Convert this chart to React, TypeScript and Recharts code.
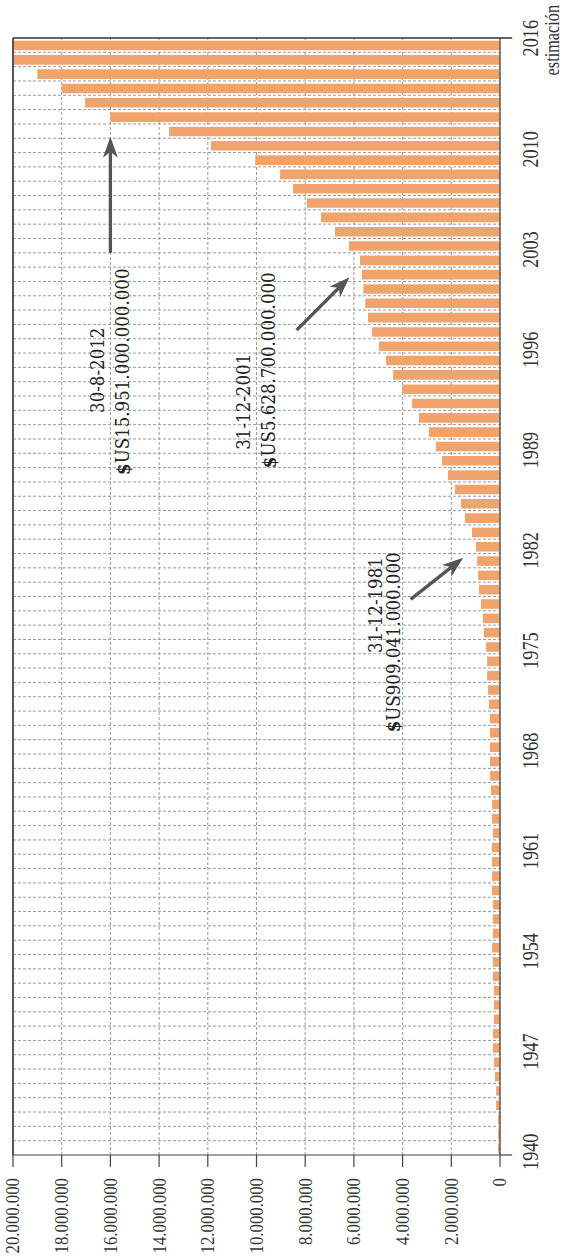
import { BarChart, Bar, XAxis, YAxis, CartesianGrid, ReferenceLine, ReferenceDot } from 'recharts';

// Deuda de EE.UU., en millones de millones de dólares (1939-2016)
const years = [
  1939, 1940, 1941, 1942, 1943, 1944, 1945, 1946, 1947, 1948, 1949, 1950, 1951,
  1952, 1953, 1954, 1955, 1956, 1957, 1958, 1959, 1960, 1961, 1962, 1963, 1964,
  1965, 1966, 1967, 1968, 1969, 1970, 1971, 1972, 1973, 1974, 1975, 1976, 1977,
  1978, 1979, 1980, 1981, 1982, 1983, 1984, 1985, 1986, 1987, 1988, 1989, 1990,
  1991, 1992, 1993, 1994, 1995, 1996, 1997, 1998, 1999, 2000, 2001, 2002, 2003,
  2004, 2005, 2006, 2007, 2008, 2009, 2010, 2011, 2012, 2013, 2014, 2015, 2016,
];

const deuda = [
  0.08, 0.08, 0.08, 0.16, 0.16, 0.21, 0.25, 0.29, 0.29, 0.25, 0.25, 0.25, 0.29,
  0.29, 0.33, 0.29, 0.29, 0.29, 0.33, 0.33, 0.33, 0.33, 0.29, 0.33, 0.33, 0.37,
  0.41, 0.41, 0.41, 0.41, 0.41, 0.45, 0.49, 0.53, 0.53, 0.57, 0.66, 0.7, 0.78,
  0.86, 0.9, 0.94, 0.99, 1.15, 1.44, 1.6, 1.85, 2.14, 2.38, 2.63, 2.92, 3.33,
  3.61, 4.01, 4.39, 4.68, 4.97, 5.26, 5.42, 5.53, 5.61, 5.67, 5.75, 6.2, 6.78,
  7.35, 7.93, 8.5, 9.03, 10.05, 11.87, 13.59, 16.0, 17.04, 18.0, 19.0, 20.0, 20.0,
];

const valueTicks = [0, 2, 4, 6, 8, 10, 12, 14, 16, 18, 20];
const yearTicks = [1940, 1947, 1954, 1961, 1968, 1975, 1982, 1989, 1996, 2003, 2010, 2016];

// textos de las notas (centro en año / valor)
const notas = [
  { year: 1993.3, value: 16.55, text: '30-8-2012' },
  { year: 1993.2, value: 15.5, text: '$US15.951.000.000.000' },
  { year: 1991.1, value: 10.55, text: '31-12-2001' },
  { year: 1993.3, value: 9.49, text: '$US5.628.700.000.000' },
  { year: 1976.9, value: 5.12, text: '31-12-1981' },
  { year: 1974.3, value: 4.39, text: '$US909.041.000.000' },
];

// flechas: desde (año, valor) hasta (año, valor)
const flechas = [
  { from: [2001.5, 16.0], to: [2009.6, 16.0] },
  { from: [1996.1, 8.35], to: [1999.8, 6.18] },
  { from: [1977.3, 3.67], to: [1980.2, 1.51] },
];

const data = years.map((year, i) => ({ year, deuda: deuda[i] }));

const puntos = (v: number) =>
  String(Math.round(v * 1000000)).replace(/\B(?=(\d{3})+(?!\d))/g, '.');

const ValueTick = ({ x, y, payload }: any) => (
  <text
    transform={`translate(${x},${y}) scale(0.86,1)`}
    textAnchor="end"
    dominantBaseline="central"
    fontFamily="'Liberation Serif', serif"
    fontSize={19.5}
    fill="#333"
  >
    {puntos(payload.value)}
  </text>
);

const YearTick = ({ x, y, payload }: any) => {
  const last = payload.value === yearTicks[yearTicks.length - 1];
  const style = { fontFamily: "'Liberation Serif', serif", fontSize: 24, fill: '#333' };
  return (
    <g>
      <text
        transform={`translate(${last ? x + 7 : x},${y}) scale(0.76,1)`}
        textAnchor={last ? 'middle' : 'end'}
        {...style}
      >
        {payload.value}
      </text>
      {last && (
        <text
          transform={`translate(${x + 5},${y + 21}) scale(0.74,1)`}
          textAnchor="middle"
          {...style}
          fontSize={22}
        >
          estimación
        </text>
      )}
    </g>
  );
};

const Flecha = (props: any) => {
  const { x1, y1, x2, y2 } = props;
  const dx = x2 - x1;
  const dy = y2 - y1;
  const len = Math.hypot(dx, dy) || 1;
  const ux = dx / len;
  const uy = dy / len;
  const head = 21;
  const half = 7.5;
  const notch = 15;
  const bx = x2 - ux * head;
  const by = y2 - uy * head;
  const nx = x2 - ux * notch;
  const ny = y2 - uy * notch;
  const px = -uy;
  const py = ux;
  return (
    <g>
      <line x1={x1} y1={y1} x2={nx} y2={ny} stroke="#555" strokeWidth={3.3} />
      <polygon
        points={`${x2},${y2} ${bx + px * half},${by + py * half} ${nx},${ny} ${bx - px * half},${by - py * half}`}
        fill="#555"
      />
    </g>
  );
};

const Nota = (text: string) => (props: any) => {
  const { cx, cy } = props;
  const dolar = text.startsWith('$');
  return (
    <text
      x={cx}
      y={cy}
      textAnchor="middle"
      dominantBaseline="central"
      fontFamily="'DejaVu Serif Condensed', 'DejaVu Serif', serif"
      fontSize={18.5}
      fill="#222"
    >
      {dolar ? (
        <>
          <tspan fontWeight="bold">$</tspan>
          {text.slice(1)}
        </>
      ) : (
        text
      )}
    </text>
  );
};

// líneas de la cuadrícula entre años
const limitesAnios = ({ offset }: any) => {
  const n = years.length;
  const out: number[] = [];
  for (let i = 1; i < n; i++) out.push(offset.left + (offset.width * i) / n);
  return out;
};

export default function App() {
  return (
    <div
      style={{
        position: 'absolute',
        left: 0,
        top: 0,
        width: 566,
        height: 1260,
        overflow: 'hidden',
        background: '#fff',
      }}
    >
      <div
        style={{
          width: 1260,
          height: 566,
          transformOrigin: '0 0',
          transform: 'translateY(1260px) rotate(-90deg)',
        }}
      >
        <BarChart width={1260} height={566} data={data} margin={{ top: 13, right: 38, bottom: 0, left: 0 }}>
          <CartesianGrid
            stroke="#999"
            strokeDasharray="3 2"
            verticalCoordinatesGenerator={limitesAnios}
          />
          <XAxis
            dataKey="year"
            type="number"
            domain={[1938.5, 2016.5]}
            ticks={yearTicks}
            interval={0}
            height={66}
            tickLine={false}
            tickSize={0}
            tickMargin={38}
            tick={<YearTick />}
            axisLine={{ stroke: '#444', strokeWidth: 1.2 }}
          />
          <YAxis
            type="number"
            domain={[0, 20]}
            ticks={valueTicks}
            interval={0}
            width={105}
            tickSize={12}
            tickMargin={11}
            tick={<ValueTick />}
            tickLine={{ stroke: '#444', strokeWidth: 1.2 }}
            axisLine={{ stroke: '#444', strokeWidth: 1.2 }}
          />
          <Bar dataKey="deuda" fill="#F0A36B" barSize={9.6} isAnimationActive={false} />
          <ReferenceLine y={20} stroke="#555" strokeWidth={2} />
          <ReferenceLine
            segment={[{ x: 2016.5, y: -0.5 }, { x: 2016.5, y: 20 }]}
            stroke="#333"
            strokeWidth={1.5}
            ifOverflow="visible"
          />
          <ReferenceLine
            segment={[{ x: 1938.5, y: -0.5 }, { x: 1938.5, y: 0 }]}
            stroke="#444"
            strokeWidth={1.2}
            ifOverflow="visible"
          />
          {flechas.map((f, i) => (
            <ReferenceLine
              key={`f${i}`}
              segment={[{ x: f.from[0], y: f.from[1] }, { x: f.to[0], y: f.to[1] }]}
              shape={Flecha}
              ifOverflow="visible"
            />
          ))}
          {notas.map((n, i) => (
            <ReferenceDot key={`n${i}`} x={n.year} y={n.value} r={0} shape={Nota(n.text)} ifOverflow="visible" />
          ))}
        </BarChart>
      </div>
    </div>
  );
}
